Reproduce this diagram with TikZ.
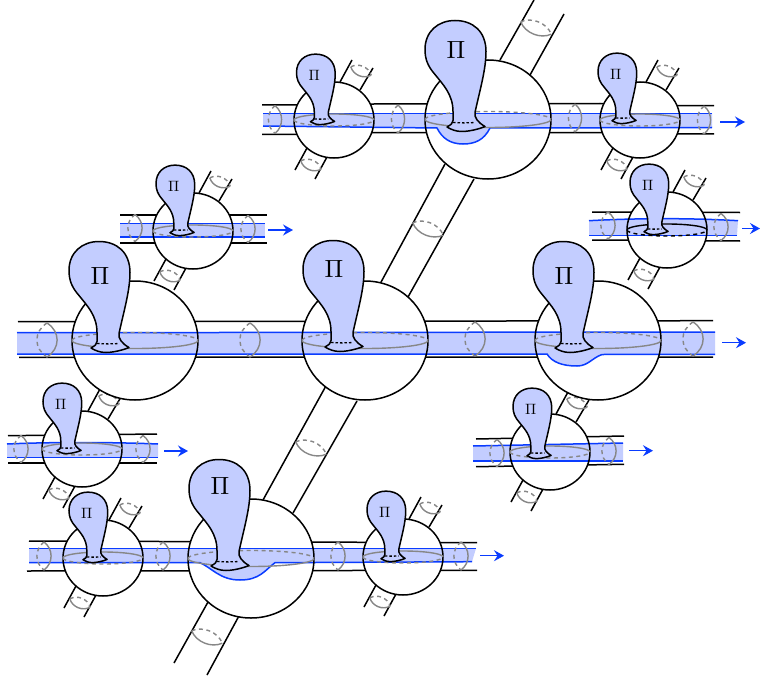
\documentclass[tikz,border=0pt]{standalone}
\usetikzlibrary{arrows.meta}
\definecolor{bandc}{RGB}{195,205,255}
\definecolor{bluec}{RGB}{10,60,255}
\definecolor{grayc}{RGB}{135,135,135}
\tikzset{
  tubeline/.style={black,line width=1.5bp},
  ballline/.style={black,line width=1.5bp},
  bandfill/.style={fill=bandc,draw=none},
  blueline/.style={draw=bluec,line width=1.5bp},
  exitarrow/.style={draw=bluec,line width=1.5bp,-{Stealth[length=10bp,width=11bp,inset=3.5bp]}},
  halo/.style={line width=1.4bp,dash pattern=on 4bp off 3.5bp},
  solidhalo/.style={line width=1.4bp},
  balloon/.style={fill=bandc,draw=black,line width=1.5bp,line join=round}
}
% vertical cross section of a horizontal tube
\newcommand{\hring}[4]{%
  \draw[grayc,halo] (#1,#2-#4) .. controls (#1-1.35*#3,#2-0.5*#4) and (#1-1.35*#3,#2+0.5*#4) .. (#1,#2+#4);
  \draw[grayc,solidhalo] (#1,#2-#4) .. controls (#1+1.35*#3,#2-0.5*#4) and (#1+1.35*#3,#2+0.5*#4) .. (#1,#2+#4);}
% cross section of a slanted tube
\newcommand{\dring}[4]{%
  \begin{scope}[shift={(#1,#2)},rotate=-22]
    \draw[grayc,halo] (-#3,0) .. controls (-0.5*#3,-1.35*#4) and (0.5*#3,-1.35*#4) .. (#3,0);
    \draw[grayc,solidhalo] (-#3,0) .. controls (-0.5*#3,1.35*#4) and (0.5*#3,1.35*#4) .. (#3,0);
  \end{scope}}
\newcommand{\bottle}{%
  \draw[balloon] (-41,7.5) .. controls (-37,5) and (-35,4) .. (-35,1) -- (-35,-8)
    .. controls (-35,-25) and (-45,-35) .. (-53,-45)
    .. controls (-60,-53) and (-63,-60) .. (-63,-70)
    .. controls (-63,-88) and (-50,-99) .. (-33,-99)
    .. controls (-15,-99) and (-2,-88) .. (-2,-68)
    .. controls (-2,-50) and (-8,-30) .. (-13,-7)
    .. controls (-14,-2) and (-10,3) .. (-3,7)
    .. controls (-10,10) and (-20,12) .. (-26,12)
    .. controls (-32,12) and (-37,10) .. (-41,7.5) -- cycle;
  \draw[black,line width=1.3bp,dash pattern=on 2.5bp off 2bp] (-35,3) .. controls (-28,3.5) and (-20,3.5) .. (-13,3);}
% name, cx, cy, balloon dx, balloon dy, pi y
\newcommand{\bigunit}[6]{%
  \begin{scope}[shift={(#2,#3)}]
    \draw[ballline] (0,0) ellipse[x radius=63,y radius=59.5];
    \draw[grayc,halo] (-63,0) arc[start angle=180,end angle=360,x radius=63,y radius=8];
    \draw[grayc,solidhalo] (-63,0) arc[start angle=180,end angle=0,x radius=63,y radius=8];
    \begin{scope}[shift={(#4,#5)}]
      \bottle
      \node[scale=2.5,inner sep=0pt] (#1) at (-32,#6) {$\Pi$};
    \end{scope}
  \end{scope}}
% name, cx, cy, balloon dx, balloon dy, ring colour
\newcommand{\smallunit}[6]{%
  \begin{scope}[shift={(#2,#3)}]
    \draw[ballline] (0,0) ellipse[x radius=40,y radius=38];
    \draw[#6,halo] (-40,0) arc[start angle=180,end angle=0,x radius=40,y radius=6];
    \draw[#6,solidhalo] (-40,0) arc[start angle=180,end angle=360,x radius=40,y radius=6];
    \begin{scope}[shift={(#4,#5)},scale=.635]
      \bottle
      \node[scale=1.5,inner sep=0pt] (#1) at (-35,-65) {$\Pi$};
    \end{scope}
  \end{scope}}
\newcommand{\stubs}[2]{%
  \begin{scope}[shift={(#1,#2)}]
    \draw[tubeline] (6,-38) -- (18,-60);
    \draw[tubeline] (26,-30) -- (39,-52);
    \draw[tubeline] (-27,28) -- (-39,50);
    \draw[tubeline] (-7,37) -- (-19,59);
  \end{scope}}
\newcommand{\stubrings}[2]{%
  \dring{#1+27}{#2-49}{11}{5}
  \dring{#1-23}{#2+45}{11}{5}}
\newcommand{\whiteball}[3]{\fill[white] (#1,#2) ellipse[x radius=#3,y radius=0.95*#3];}
\begin{document}
\begin{tikzpicture}[x=1bp,y=-1bp]
\useasboundingbox (0,0) rectangle (760,682);
\fill[white] (0,0) rectangle (760,682);
% small-ball stubs
\stubs{334}{120}\stubs{640}{120}\stubs{193}{231}\stubs{667}{230}
\stubs{82}{449}\stubs{550}{452}\stubs{103}{558}\stubs{403}{557}
% big slanted tubes
\draw[tubeline] (500,60) -- (534,0);
\draw[tubeline] (530,75) -- (564,14);
\draw[tubeline] (445,164) -- (380,284);
\draw[tubeline] (474,179) -- (408,297);
\draw[tubeline] (327,384) -- (263,500);
\draw[tubeline] (357,401) -- (293,513);
\draw[tubeline] (208,602) -- (174,663);
\draw[tubeline] (240,614) -- (207,675);
% horizontal tubes
\draw[tubeline] (262,105) -- (295,105) -- (374,104) -- (600,103.5) -- (680,105.7) -- (714,105.7);
\draw[tubeline] (262,134.3) -- (295,134.3) -- (374,132.7) -- (600,132.7) -- (680,134) -- (714,134);
\draw[tubeline] (120,215) -- (267,215);
\draw[tubeline] (120,243) -- (267,243);
\draw[tubeline] (592,212) -- (740,212.5);
\draw[tubeline] (592,240) -- (740,241);
\draw[tubeline] (18,321.7) -- (713,320.7);
\draw[tubeline] (19,357.3) -- (713,357);
\draw[tubeline] (8,435.7) -- (157,434);
\draw[tubeline] (8,463) -- (157,463);
\draw[tubeline] (476,439) -- (624,436);
\draw[tubeline] (476,466.7) -- (624,464.3);
\draw[tubeline] (29,541) -- (477,542.7);
\draw[tubeline] (27,571) -- (477,570.3);
% white balls
\whiteball{488}{119.5}{63}\whiteball{135}{340.5}{63}\whiteball{365}{340.5}{63}
\whiteball{598}{340.5}{63}\whiteball{251}{558.5}{63}
\whiteball{334}{120}{40}\whiteball{640}{120}{40}\whiteball{193}{231}{40}\whiteball{667}{230}{40}
\whiteball{82}{449}{40}\whiteball{550}{452}{40}\whiteball{103}{558}{40}\whiteball{403}{557}{40}
% bands
\path[bandfill] (263,113.3) -- (712,113.3) -- (712,127.5) -- (490,128) .. controls (484,140) and (475,144) .. (463,144) .. controls (450,144) and (442,138) .. (437,128) -- (263,126) -- cycle;
\path[bandfill] (120,223.3) -- (265,223.3) -- (265,237) -- (120,237) -- cycle;
\path[bandfill] (589,220.7) .. controls (640,218) and (690,218) .. (738,220.7) -- (737,235.3) -- (589,235.3) -- cycle;
\path[bandfill] (17,332.7) -- (715,332) -- (715,354.3) -- (602,354.5) .. controls (592,358) and (588,366) .. (577,366) .. controls (562,366) and (552,362) .. (547,354) -- (17,354) -- cycle;
\path[bandfill] (7,444) .. controls (50,442) and (110,442) .. (158,444) -- (158,457.3) -- (7,457.3) -- cycle;
\path[bandfill] (473,446) -- (623,443) -- (623,461) -- (473,461) -- cycle;
\path[bandfill] (29,548.3) -- (476,548.3) -- (472,561.7) -- (275,562.7) .. controls (265,570) and (260,580) .. (240,580) .. controls (220,580) and (212,568) .. (200,562.7) -- (29,562.7) -- cycle;
% band edges
\draw[blueline] (263,113.3) -- (712,113.3);
\draw[blueline] (263,126) -- (437,128) .. controls (442,138) and (450,144) .. (463,144) .. controls (475,144) and (484,140) .. (490,128) -- (712,127.5);
\draw[blueline] (120,223.3) -- (265,223.3);
\draw[blueline] (120,237) -- (265,237);
\draw[blueline] (589,220.7) .. controls (640,218) and (690,218) .. (738,220.7);
\draw[blueline] (589,235.3) -- (737,235.3);
\draw[blueline] (17,332.7) -- (715,332);
\draw[blueline] (17,354) -- (547,354) .. controls (552,362) and (562,366) .. (577,366) .. controls (588,366) and (592,358) .. (602,354.5) -- (715,354.3);
\draw[blueline] (7,444) .. controls (50,442) and (110,442) .. (158,444);
\draw[blueline] (7,457.3) -- (158,457.3);
\draw[blueline] (473,446) -- (623,443);
\draw[blueline] (473,461) -- (623,461);
\draw[blueline] (29,548.3) -- (476,548.3);
\draw[blueline] (29,562.7) -- (200,562.7) .. controls (212,568) and (220,580) .. (240,580) .. controls (260,580) and (265,570) .. (275,562.7) -- (472,561.7);
% exit arrows
\coordinate (a1s) at (720,122); \coordinate (a1e) at (745,122);
\coordinate (a2s) at (268,230); \coordinate (a2e) at (293,230);
\coordinate (a3s) at (742,228.5); \coordinate (a3e) at (760,228.5);
\coordinate (a4s) at (722,342.7); \coordinate (a4e) at (746,342.7);
\coordinate (a5s) at (164,451); \coordinate (a5e) at (188,451);
\coordinate (a6s) at (629,450.7); \coordinate (a6e) at (653,450.7);
\coordinate (a7s) at (480,555.7); \coordinate (a7e) at (504,555.7);
\foreach \k in {1,...,7}{\draw[exitarrow] (a\k s) -- (a\k e);}
% cross sections
\hring{275}{119.5}{6.5}{14}\hring{398}{119}{6.5}{14}\hring{575}{118}{6.5}{14}\hring{704}{120}{6.5}{14}
\hring{135}{228}{7}{13.5}\hring{248}{229}{7}{13.5}
\hring{608}{225.5}{7}{13.5}\hring{721}{227}{7}{13.5}
\hring{47}{340}{10}{17}\hring{250}{340}{10}{17}\hring{475}{339}{10}{17}\hring{693}{339}{10}{17}
\hring{21}{449}{7}{13.5}\hring{143}{449}{7}{13.5}
\hring{497}{453}{7}{13.5}\hring{609}{451}{7}{13.5}
\hring{44}{556}{7}{14}\hring{163}{556}{7}{14}\hring{338}{556}{7}{14}\hring{461}{556}{7}{14}
\dring{536}{28}{16.5}{6.5}\dring{428}{229}{16.5}{6.5}\dring{311}{448}{16.5}{6.5}\dring{207}{637}{16.5}{6.5}
\stubrings{334}{120}\stubrings{640}{120}\stubrings{193}{231}\stubrings{667}{230}
\stubrings{82}{449}\stubrings{550}{452}\stubrings{103}{558}\stubrings{403}{557}
% units
\bigunit{pA}{488}{119.5}{0}{0}{-70}
\bigunit{pB}{135}{340.5}{-3}{0}{-65}
\bigunit{pC}{365}{340.5}{1}{-1}{-71}
\bigunit{pD}{598}{340.5}{-2}{0}{-65}
\bigunit{pE}{251}{558.5}{1}{0}{-73}
\smallunit{pa}{334}{120}{2.5}{-3}{grayc}
\smallunit{pb}{640}{120}{-2}{-4}{grayc}
\smallunit{pc}{193}{231}{3}{-3}{grayc}
\smallunit{pd}{667}{230}{3}{-3}{black}
\smallunit{pe}{82}{449}{1}{-3}{grayc}
\smallunit{pf}{550}{452}{3}{-1}{grayc}
\smallunit{pg}{103}{558}{6}{-3}{grayc}
\smallunit{ph}{403}{557}{4}{-3}{grayc}
\end{tikzpicture}
\end{document}
